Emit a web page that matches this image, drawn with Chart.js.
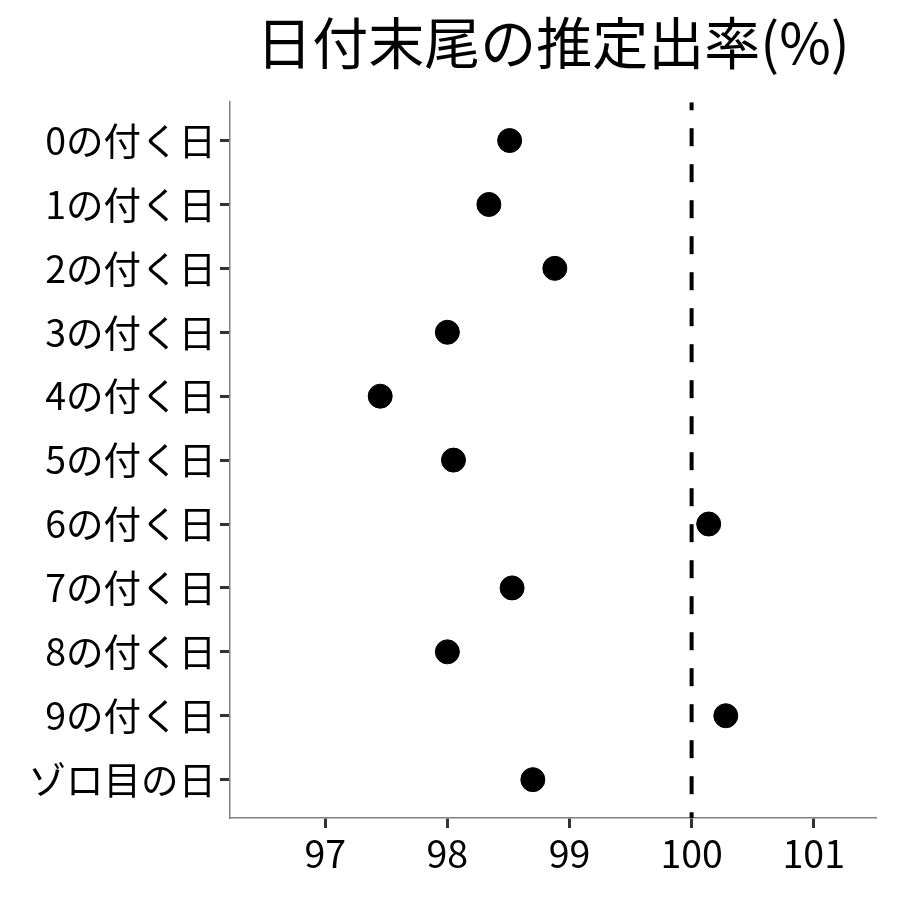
<!DOCTYPE html>
<html lang="ja">
<head>
    <meta charset="UTF-8">
    <script src="https://cdn.jsdelivr.net/npm/chart.js"></script>
    <title>日付末尾の推定出率</title>
    <style>
        body { margin: 0; background: #ffffff; }
        #wrap { width: 900px; height: 900px; }
    </style>
</head>
<body>
<div id="wrap"><canvas id="chart"></canvas></div>
<script>
    // カテゴリと推定出率
    const categories = ['0の付く日', '1の付く日', '2の付く日', '3の付く日', '4の付く日',
        '5の付く日', '6の付く日', '7の付く日', '8の付く日', '9の付く日', 'ゾロ目の日'];
    const rates = [98.51, 98.34, 98.88, 98.00, 97.45, 98.05, 100.14, 98.53, 98.00, 100.28, 98.70];
    const xTicks = [97, 98, 99, 100, 101];
    const refLine = 100;

    const font = "'Noto Sans CJK JP', 'Noto Sans', sans-serif";

    const points = rates.map((v, i) => ({ x: v, y: i }));

    const chart = new Chart(document.getElementById('chart'), {
        type: 'scatter',
        data: {
            datasets: [
                {
                    data: points,
                    backgroundColor: '#000000',
                    borderColor: '#000000',
                    pointRadius: 12,
                    pointHoverRadius: 12
                },
                {
                    type: 'line',
                    data: [{ x: refLine, y: -0.6 }, { x: refLine, y: categories.length - 0.4 }],
                    borderColor: '#000000',
                    borderWidth: 4,
                    borderDash: [18, 18],
                    borderDashOffset: 10,
                    pointRadius: 0,
                    fill: false
                }
            ]
        },
        options: {
            responsive: true,
            maintainAspectRatio: false,
            animation: false,
            layout: { padding: { left: 0, right: 24, top: 0, bottom: 0 } },
            plugins: {
                legend: { display: false },
                tooltip: { enabled: false },
                title: {
                    display: true,
                    text: '日付末尾の推定出率(%)',
                    color: '#000000',
                    fullSize: false,
                    font: { family: font, size: 56, weight: 'normal' },
                    padding: { top: 9, bottom: 26 }
                }
            },
            scales: {
                x: {
                    type: 'linear',
                    min: 96.22,
                    max: 101.51,
                    afterBuildTicks: s => { s.ticks = xTicks.map(v => ({ value: v })); },
                    afterFit: s => { s.height = 82; },
                    ticks: {
                        color: '#000000',
                        font: { family: font, size: 37.5 },
                        padding: 3
                    },
                    grid: {
                        drawOnChartArea: false,
                        drawTicks: true,
                        tickLength: 10,
                        tickColor: '#333333',
                        tickWidth: 3
                    },
                    border: { color: '#808080', width: 1.5 }
                },
                y: {
                    type: 'linear',
                    reverse: true,
                    min: -0.6,
                    max: categories.length - 0.4,
                    afterBuildTicks: s => { s.ticks = categories.map((c, i) => ({ value: i })); },
                    afterFit: s => { s.width = 230; },
                    ticks: {
                        color: '#000000',
                        font: { family: font, size: 37.5 },
                        padding: 4,
                        callback: v => categories[v]
                    },
                    grid: {
                        drawOnChartArea: false,
                        drawTicks: true,
                        tickLength: 10,
                        tickColor: '#333333',
                        tickWidth: 3
                    },
                    border: { color: '#808080', width: 1.5 }
                }
            }
        }
    });
</script>
</body>
</html>
